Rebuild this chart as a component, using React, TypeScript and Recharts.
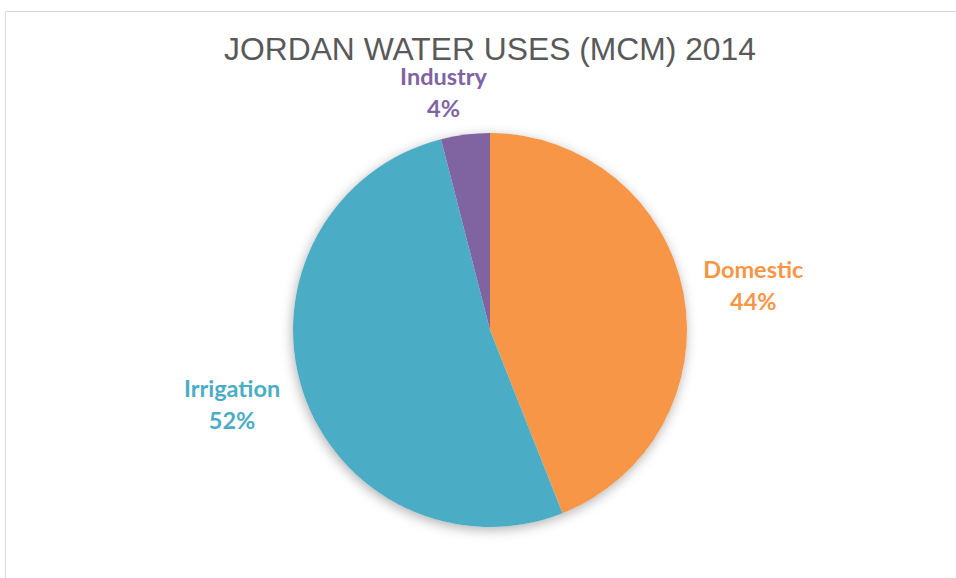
import React from 'react';
import { PieChart, Pie, Cell } from 'recharts';

const title = 'JORDAN WATER USES (MCM) 2014';
const categories = ['Domestic', 'Irrigation', 'Industry'];
const shares = [44, 52, 4];
const colors = ['#F79646', '#4BACC6', '#8064A2'];

const data = categories.map((name, i) => ({ name, value: shares[i] }));
const totalData = [{ name: 'total', value: shares.reduce((a, b) => a + b, 0) }];

const RAD = Math.PI / 180;
const labelExtra = [68, 70, 46];
const labelShift = [
  [3, 6],
  [-4, -8],
  [-16, 4],
];

const renderLabel = (props: any) => {
  const { cx, cy, midAngle, outerRadius, index, name, percent } = props;
  const r = outerRadius + labelExtra[index];
  const x = cx + r * Math.cos(-midAngle * RAD) + labelShift[index][0];
  const y = cy + r * Math.sin(-midAngle * RAD) + labelShift[index][1];
  return (
    <text
      x={x}
      y={y}
      textAnchor="middle"
      fill={colors[index]}
      style={{ fontFamily: 'Lato, "Open Sans", sans-serif', fontWeight: 700, fontSize: 23.5 }}
    >
      <tspan x={x} y={y - 8}>{name}</tspan>
      <tspan x={x} y={y + 24}>{`${Math.round(percent * 100)}%`}</tspan>
    </text>
  );
};

export default function App() {
  return (
    <div
      style={{
        position: 'absolute',
        left: 0,
        top: 0,
        width: 956,
        height: 578,
        overflow: 'hidden',
        background: '#ffffff',
      }}
    >
      <style>{`.pie-shadow .recharts-sector { filter: drop-shadow(-1px 3px 6px rgba(0,0,0,0.3)); }`}</style>
      <PieChart width={956} height={578} margin={{ top: 0, right: 0, bottom: 0, left: 0 }}>
        <Pie
          className="pie-shadow"
          data={totalData}
          dataKey="value"
          cx={490}
          cy={330}
          outerRadius={197}
          startAngle={90}
          endAngle={-270}
          fill="#ffffff"
          stroke="none"
          isAnimationActive={false}
          label={false}
          labelLine={false}
        />
        <Pie
          data={data}
          dataKey="value"
          nameKey="name"
          cx={490}
          cy={330}
          outerRadius={197}
          startAngle={90}
          endAngle={-270}
          stroke="none"
          isAnimationActive={false}
          labelLine={false}
          label={renderLabel}
        >
          {data.map((d, i) => (
            <Cell key={d.name} fill={colors[i]} />
          ))}
        </Pie>
      </PieChart>
      <svg
        width={956}
        height={578}
        style={{ position: 'absolute', left: 0, top: 0, pointerEvents: 'none' }}
      >
        <line x1={5.5} y1={11.5} x2={956} y2={11.5} stroke="#D9D9D9" strokeWidth={1} />
        <line x1={5.5} y1={11.5} x2={5.5} y2={578} stroke="#D9D9D9" strokeWidth={1} />
        <text
          x={490}
          y={60}
          textAnchor="middle"
          fill="#595959"
          style={{ fontFamily: '"Liberation Sans", Arial, sans-serif', fontSize: 31.8 }}
        >
          {title}
        </text>
      </svg>
    </div>
  );
}
